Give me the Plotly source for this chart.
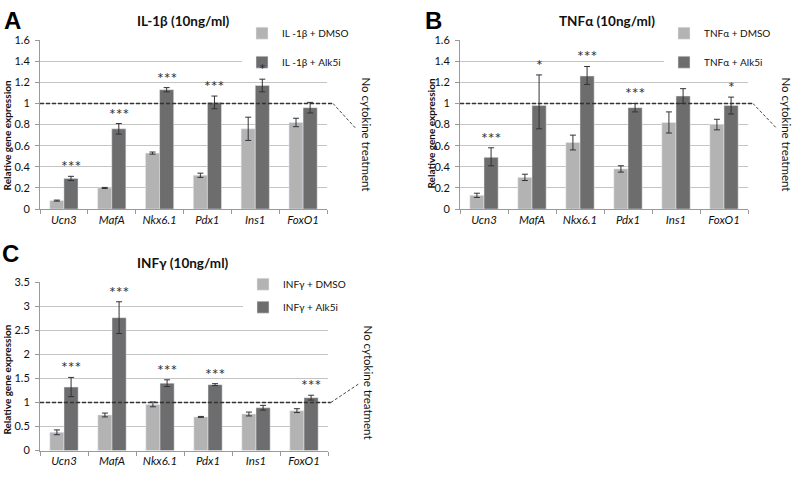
import plotly.graph_objects as go

W, H = 797, 479

genes = ["Ucn3", "MafA", "Nkx6.1", "Pdx1", "Ins1", "FoxO1"]

# Panel A: IL-1b
il1b_dmso = [0.08, 0.20, 0.53, 0.32, 0.76, 0.82]
il1b_dmso_err = [0.005, 0.005, 0.01, 0.02, 0.11, 0.04]
il1b_alk5i = [0.29, 0.76, 1.13, 1.01, 1.17, 0.96]
il1b_alk5i_err = [0.02, 0.05, 0.02, 0.06, 0.06, 0.05]
il1b_stars = ["***", "***", "***", "***", "*", ""]

# Panel B: TNFa
tnfa_dmso = [0.13, 0.30, 0.63, 0.38, 0.82, 0.80]
tnfa_dmso_err = [0.02, 0.03, 0.07, 0.03, 0.10, 0.05]
tnfa_alk5i = [0.49, 0.98, 1.26, 0.96, 1.07, 0.98]
tnfa_alk5i_err_plus = [0.09, 0.29, 0.09, 0.04, 0.07, 0.08]
tnfa_alk5i_err_minus = [0.08, 0.22, 0.08, 0.04, 0.07, 0.08]
tnfa_stars = ["***", "*", "***", "***", "", "*"]

# Panel C: INFg
infg_dmso = [0.38, 0.74, 0.96, 0.70, 0.76, 0.83]
infg_dmso_err = [0.05, 0.04, 0.05, 0.01, 0.04, 0.04]
infg_alk5i = [1.32, 2.76, 1.40, 1.37, 0.89, 1.10]
infg_alk5i_err = [0.20, 0.33, 0.07, 0.02, 0.05, 0.05]
infg_stars = ["***", "***", "***", "***", "", "***"]

LIGHT = "#b3b3b3"
DARK = "#6d6d6d"
GRID = "#c4c4c4"
AXIS = "#9a9a9a"
TXT = "#111111"
FONT = "Lato, 'Open Sans', sans-serif"


def px_x(p):
    return p / W


def px_y(p):
    return 1 - p / H


panels = [
    dict(ax="", dmso=il1b_dmso, dmso_err=il1b_dmso_err, alk=il1b_alk5i,
         alk_plus=il1b_alk5i_err, alk_minus=il1b_alk5i_err, stars=il1b_stars,
         names=["IL -1\u03b2 + DMSO", "IL -1\u03b2 + Alk5i"], legend="legend",
         xdom=[40, 327], ydom=[207.7, 34], yrange=[0, 1.6], dtick=0.2,
         letter="A", letter_pos=(12, 14), title="IL-1\u03b2 (10ng/ml)", title_pos=(183, 14),
         ytitle_pos=(7, 132), leg_pos=(242, 12), gap=10,
         diag=(1.021, 1.098, 0.77), note_pos=(367, 131)),
    dict(ax="2", dmso=tnfa_dmso, dmso_err=tnfa_dmso_err, alk=tnfa_alk5i,
         alk_plus=tnfa_alk5i_err_plus, alk_minus=tnfa_alk5i_err_minus, stars=tnfa_stars,
         names=["TNF\u03b1 + DMSO", "TNF\u03b1 + Alk5i"], legend="legend2",
         xdom=[460, 748], ydom=[207.7, 34], yrange=[0, 1.6], dtick=0.2,
         letter="B", letter_pos=(433, 14), title="TNF\u03b1 (10ng/ml)", title_pos=(607, 14),
         ytitle_pos=(431, 130), leg_pos=(664, 12), gap=10,
         diag=(1.017, 1.101, 0.76), note_pos=(787, 131)),
    dict(ax="3", dmso=infg_dmso, dmso_err=infg_dmso_err, alk=infg_alk5i,
         alk_plus=infg_alk5i_err, alk_minus=infg_alk5i_err, stars=infg_stars,
         names=["INF\u03b3 + DMSO", "INF\u03b3 + Alk5i"], legend="legend3",
         xdom=[40, 328], ydom=[456, 282.7], yrange=[0, 3.5], dtick=0.5,
         letter="C", letter_pos=(10, 253), title="INF\u03b3 (10ng/ml)", title_pos=(183, 263),
         ytitle_pos=(7, 383), leg_pos=(243, 270), gap=4,
         diag=(1.01, 1.108, 1.39), note_pos=(368, 386)),
]

fig = go.Figure()
annotations = []
shapes = []
layout = {}

for p in panels:
    xa, ya = "x" + p["ax"], "y" + p["ax"]
    err_style = dict(type="data", visible=True, color="#333333", thickness=1, width=3)

    fig.add_trace(go.Bar(
        x=genes, y=p["dmso"], name=p["names"][0], marker_color=LIGHT,
        error_y=dict(array=p["dmso_err"], **err_style),
        xaxis=xa, yaxis=ya, legend=p["legend"], legendgroup=p["names"][0],
    ))
    fig.add_trace(go.Bar(
        x=genes, y=p["alk"], name=p["names"][1], marker_color=DARK,
        error_y=dict(array=p["alk_plus"], arrayminus=p["alk_minus"], symmetric=False, **err_style),
        xaxis=xa, yaxis=ya, legend=p["legend"], legendgroup=p["names"][1],
    ))

    # significance stars above the Alk5i bars
    for g, v, e, s in zip(genes, p["alk"], p["alk_plus"], p["stars"]):
        if s:
            annotations.append(dict(
                x=g, y=v + e, xref=xa, yref=ya, text=s, showarrow=False,
                xshift=7, yshift=-1, yanchor="bottom",
                font=dict(size=16, color="#333333", family=FONT),
            ))

    # "no cytokine" reference line
    shapes.append(dict(type="line", xref=xa + " domain", yref=ya, x0=0, x1=p["diag"][0],
                       y0=1, y1=1, line=dict(color="#333333", width=1.6, dash="4px,2px")))
    shapes.append(dict(type="line", xref=xa + " domain", yref=ya, x0=p["diag"][0], x1=p["diag"][1],
                       y0=1, y1=p["diag"][2], line=dict(color="#444444", width=1, dash="3px,2px")))

    annotations += [
        dict(x=px_x(p["letter_pos"][0]), y=px_y(p["letter_pos"][1]), xref="paper", yref="paper",
             text="<b>%s</b>" % p["letter"], showarrow=False, xanchor="center", yanchor="middle",
             font=dict(size=24, color="#000000", family="Liberation Sans, Arial")),
        dict(x=px_x(p["title_pos"][0]), y=px_y(p["title_pos"][1]), xref="paper", yref="paper",
             text="<b>%s</b>" % p["title"], showarrow=False, xanchor="center", yanchor="middle",
             font=dict(size=13.5, color=TXT, family=FONT)),
        dict(x=px_x(p["ytitle_pos"][0]), y=px_y(p["ytitle_pos"][1]), xref="paper", yref="paper",
             text="<b>Relative gene expression</b>", showarrow=False, textangle=-90,
             xanchor="center", yanchor="middle", font=dict(size=10, color=TXT, family=FONT)),
        dict(x=px_x(p["note_pos"][0]), y=px_y(p["note_pos"][1]), xref="paper", yref="paper",
             text="No cytokine treatment", showarrow=False, textangle=90,
             xanchor="center", yanchor="middle", font=dict(size=11.5, color=TXT, family=FONT)),
    ]

    xkey = "xaxis" + p["ax"]
    ykey = "yaxis" + p["ax"]
    layout[xkey] = dict(
        domain=[px_x(p["xdom"][0]), px_x(p["xdom"][1])], anchor=ya,
        showline=True, linecolor=AXIS, ticks="outside", tickson="boundaries",
        ticklen=4, tickcolor=AXIS, showgrid=False,
        tickfont=dict(size=11.5, color=TXT, family=FONT, style="italic"),
    )
    layout[ykey] = dict(
        domain=[px_y(p["ydom"][0]), px_y(p["ydom"][1])], anchor=xa,
        range=p["yrange"], dtick=p["dtick"], showline=True, linecolor=AXIS,
        ticks="outside", ticklen=4, tickcolor=AXIS, showgrid=True, gridcolor=GRID,
        zeroline=False, ticklabelstandoff=3, tickfont=dict(size=11, color=TXT, family=FONT),
    )
    layout[p["legend"]] = dict(
        x=px_x(p["leg_pos"][0]), y=px_y(p["leg_pos"][1]), xanchor="left", yanchor="top",
        bgcolor="white", tracegroupgap=p["gap"], itemwidth=30,
        font=dict(size=10, color=TXT, family=FONT),
    )

fig.update_layout(
    width=W, height=H,
    margin=dict(l=0, r=0, t=0, b=0),
    paper_bgcolor="white", plot_bgcolor="white",
    barmode="group", bargap=0.41, bargroupgap=0,
    annotations=annotations, shapes=shapes,
    font=dict(family=FONT, color=TXT),
    **layout,
)

fig.write_html("out.html", config={"displayModeBar": False},
               post_script="document.body.style.margin='0';")
